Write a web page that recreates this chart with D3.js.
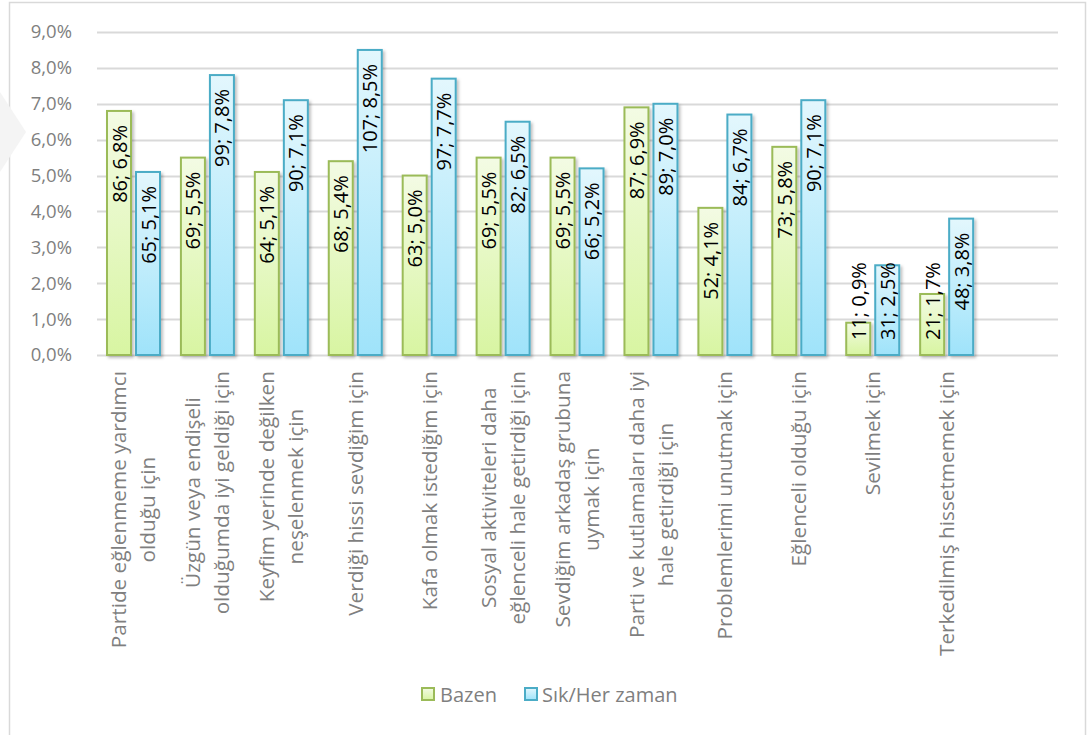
<!DOCTYPE html>
<html>
<head>
<meta charset="utf-8">
<script src="https://cdn.jsdelivr.net/npm/d3@7"></script>
<style>
  body { margin: 0; background: #fff; }
  svg { display: block; font-family: "Open Sans", Lato, sans-serif; }
</style>
</head>
<body>
<div id="chart"></div>
<script>
const categories = [
  ["Partide eğlenmeme yardımcı", "olduğu için"],
  ["Üzgün veya endişeli", "olduğumda iyi geldiği için"],
  ["Keyfim yerinde değilken", "neşelenmek için"],
  ["Verdiği hissi sevdiğim için"],
  ["Kafa olmak istediğim için"],
  ["Sosyal aktiviteleri daha", "eğlenceli hale getirdiği için"],
  ["Sevdiğim arkadaş grubuna", "uymak için"],
  ["Parti ve kutlamaları daha iyi", "hale getirdiği için"],
  ["Problemlerimi unutmak için"],
  ["Eğlenceli olduğu için"],
  ["Sevilmek için"],
  ["Terkedilmiş hissetmemek için"]
]
const seriesNames = ["Bazen", "Sık/Her zaman"]
const bazenCount = [86, 69, 64, 68, 63, 69, 69, 87, 52, 73, 11, 21]
const bazenPct = [6.8, 5.5, 5.1, 5.4, 5.0, 5.5, 5.5, 6.9, 4.1, 5.8, 0.9, 1.7]
const sikCount = [65, 99, 90, 107, 97, 82, 66, 89, 84, 90, 31, 48]
const sikPct = [5.1, 7.8, 7.1, 8.5, 7.7, 6.5, 5.2, 7.0, 6.7, 7.1, 2.5, 3.8]
const yTicks = [0, 1, 2, 3, 4, 5, 6, 7, 8, 9]

const width = 1087, height = 735
const margin = { left: 97, right: 29, top: 32 }
const plotBottom = 355
const slots = 13 // Excel leaves one empty slot on the right

const svg = d3.select("#chart").append("svg")
  .attr("width", width).attr("height", height)

const defs = svg.append("defs")
const grad = (id, top, bottom) => {
  const g = defs.append("linearGradient").attr("id", id)
    .attr("x1", 0).attr("y1", 0).attr("x2", 0).attr("y2", 1)
  g.append("stop").attr("offset", "0%").attr("stop-color", top)
  g.append("stop").attr("offset", "100%").attr("stop-color", bottom)
}
grad("gGreen", "#f3fbe4", "#d8f5a2")
grad("gBlue", "#e3f7fd", "#9fe3fa")
const shadow = defs.append("filter").attr("id", "shadow")
  .attr("x", "-20%").attr("y", "-5%").attr("width", "150%").attr("height", "115%")
shadow.append("feDropShadow").attr("dx", 2).attr("dy", 2).attr("stdDeviation", 1.5)
  .attr("flood-color", "#000").attr("flood-opacity", 0.25)

// frame
svg.append("rect").attr("x", 9.5).attr("y", 2.5).attr("width", 1076).attr("height", 740)
  .attr("fill", "none").attr("stroke", "#d9d9d9").attr("stroke-width", 1.5)

// faint watermark on the left edge
svg.append("path").attr("d", "M0,92 L26,132 L0,172 Z").attr("fill", "#f4f4f4")

const y = d3.scaleLinear().domain([0, 9]).range([plotBottom, margin.top])
const x = d3.scaleBand().domain(d3.range(slots)).range([margin.left, width - margin.right])
const bw = 24, gap = 5, offset = 10

// gridlines
svg.append("g").selectAll("line").data(yTicks).join("line")
  .attr("x1", margin.left).attr("x2", width - margin.right)
  .attr("y1", d => Math.round(y(d)) + 0.5).attr("y2", d => Math.round(y(d)) + 0.5)
  .attr("stroke", "#d9d9d9").attr("stroke-width", 2)

// y axis
const yAxis = svg.append("g").attr("transform", `translate(${margin.left - 10},0)`)
  .call(d3.axisLeft(y).tickValues(yTicks).tickSize(0).tickPadding(15)
    .tickFormat(d => d3.format(".1f")(d).replace(".", ",") + "%"))
yAxis.select(".domain").remove()
yAxis.selectAll("text").attr("fill", "#7f7f7f").attr("font-size", 18.5)
  .attr("font-family", "'Open Sans', sans-serif")

// bars
const rows = categories.map((c, i) => ({ i, vals: [
  { s: 0, count: bazenCount[i], pct: bazenPct[i] },
  { s: 1, count: sikCount[i], pct: sikPct[i] }
] }))
const fills = ["url(#gGreen)", "url(#gBlue)"]
const strokes = ["#9bbb59", "#4bacc6"]

const groups = svg.append("g").selectAll("g").data(rows).join("g")
  .attr("transform", d => `translate(${x(d.i) + offset},0)`)

groups.selectAll("rect").data(d => d.vals).join("rect")
  .attr("x", d => d.s * (bw + gap))
  .attr("y", d => y(d.pct))
  .attr("width", bw)
  .attr("height", d => plotBottom - y(d.pct))
  .attr("fill", d => fills[d.s])
  .attr("stroke", d => strokes[d.s])
  .attr("stroke-width", 2)
  .attr("filter", "url(#shadow)")

// data labels, rotated, reading bottom to top
groups.selectAll("text.lbl").data(d => d.vals).join("text")
  .attr("class", "lbl")
  .attr("font-size", 20)
  .attr("fill", "#000")
  .attr("text-anchor", "end")
  .text(d => `${d.count}; ${String(d.pct.toFixed(1)).replace(".", ",")}%`)
  .each(function (d) {
    const len = this.getComputedTextLength()
    const top = Math.min(y(d.pct) + 14, plotBottom - 15 - len)
    const cx = d.s * (bw + gap) + bw / 2 + 7.5
    d3.select(this).attr("transform", `translate(${cx},${top}) rotate(-90)`)
  })

// category labels
const cat = svg.append("g").selectAll("g").data(categories).join("g")
  .attr("transform", (d, i) => `translate(${x(i) + x.bandwidth() / 2},371) rotate(-90)`)
cat.each(function (lines) {
  const g = d3.select(this)
  const t = g.selectAll("text").data(lines).join("text")
    .attr("font-size", 20.75).attr("fill", "#7f7f7f")
    .text(d => d)
  const lens = []
  t.each(function () { lens.push(this.getComputedTextLength()) })
  const maxLen = d3.max(lens)
  const lh = 29
  const n = lines.length
  t.attr("x", (d, k) => -maxLen + (maxLen - lens[k]) / 2)
   .attr("y", (d, k) => (k - (n - 1) / 2) * lh + 7)
})

// legend
const legend = svg.append("g").attr("transform", "translate(421,695)")
const items = [{ x: 0, tx: 19 }, { x: 103, tx: 121 }]
seriesNames.forEach((name, k) => {
  legend.append("rect").attr("x", items[k].x + 1).attr("y", -7).attr("width", 12).attr("height", 12)
    .attr("fill", fills[k]).attr("stroke", strokes[k]).attr("stroke-width", 2)
  legend.append("text").attr("x", items[k].tx).attr("y", 7)
    .attr("font-size", 20).attr("fill", "#7f7f7f").text(name)
})
</script>
</body>
</html>
